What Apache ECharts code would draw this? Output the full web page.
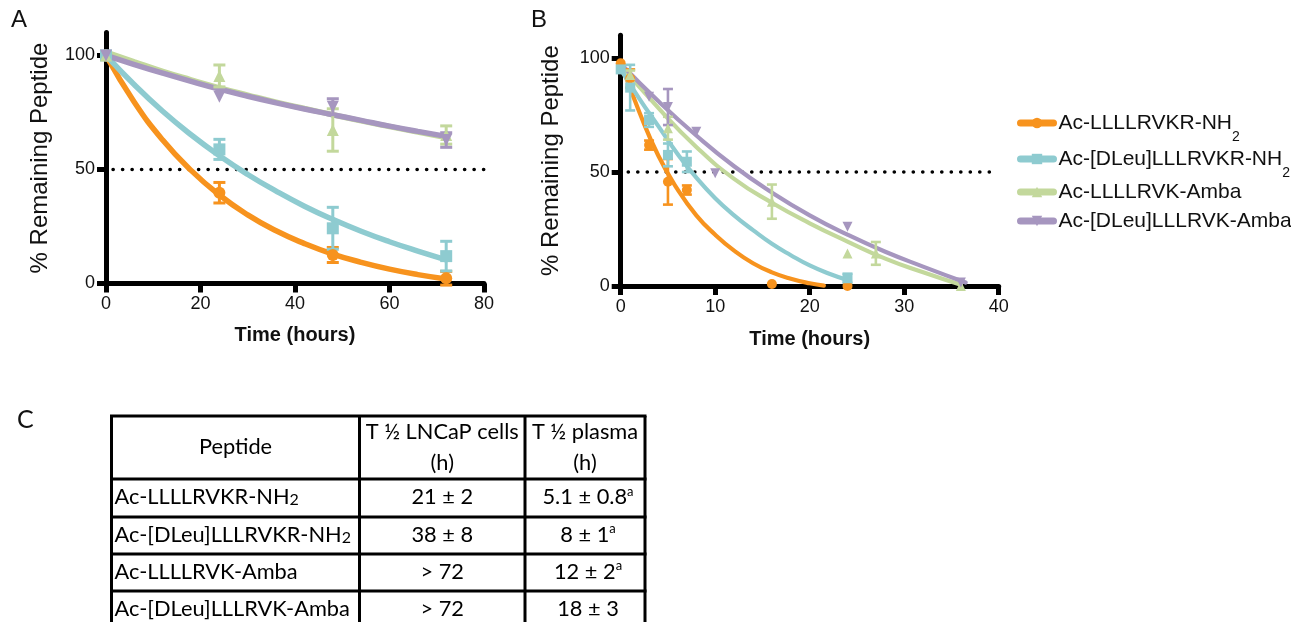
<!DOCTYPE html>
<html>
<head>
<meta charset="utf-8">
<title>Peptide stability</title>
<script src="https://cdn.jsdelivr.net/npm/echarts@6/dist/echarts.min.js"></script>
<style>
  html, body { margin: 0; padding: 0; background: #fff; }
  #main { width: 1291px; height: 622px; }
</style>
</head>
<body>
<div id="main"></div>
<script>
// peptides, same order in every panel
var peptides = ['Ac-LLLLRVKR-NH2', 'Ac-[DLeu]LLLRVKR-NH2', 'Ac-LLLLRVK-Amba', 'Ac-[DLeu]LLLRVK-Amba'];
var colors = ['#F7931E', '#8ECBD0', '#C3D89C', '#A696BF'];
var symbols = ['circle', 'rect', 'triangle', 'path://M0,0L10,0L5,9Z'];

// panel A - LNCaP cells, measured points
var timeA = [0, 24, 48, 72];
var meanA = [
  [100, 39.8, 12.5, 2.3],
  [100, 58.8, 24.2, 12.0],
  [100, 91.0, 67.3, 65.1],
  [100, 81.9, 77.5, 62.9]
];
var errA = [
  [0, 4.5, 3.3, 3.0],
  [0, 4.4, 9.2, 6.5],
  [0, 4.8, 9.3, 4.0],
  [0, 0, 3.5, 3.2]
];
// panel A - fitted curves
var fitTimeA = [0, 6, 12, 18, 24, 30, 36, 42, 48, 54, 60, 66, 72];
var fitA = [
  [100, 79.5, 62.9, 49.6, 38.8, 30.1, 23.1, 17.5, 12.9, 9.3, 6.3, 3.9, 2.0],
  [100, 87.1, 75.5, 65.2, 56.0, 47.8, 40.5, 33.9, 28.1, 22.9, 18.3, 14.2, 10.4],
  [101.5, 97.2, 93.0, 89.3, 85.8, 82.6, 79.5, 76.7, 74.0, 71.3, 68.8, 66.4, 64.0],
  [100, 96.0, 92.2, 88.6, 85.2, 82.1, 79.2, 76.5, 74.0, 71.5, 69.0, 66.7, 64.5]
];

// panel B - plasma, measured points
var timeB = [
  [0, 1, 3, 5, 7, 16, 24],
  [0, 1, 3, 5, 7, 24],
  [1, 5, 16, 24, 27, 36],
  [3, 5, 8, 10, 24, 36]
];
var meanB = [
  [97.7, 91.0, 61.8, 45.7, 42.1, 0.9, 0],
  [95.0, 87.0, 72.8, 57.5, 54.5, 3.4],
  [92.5, 69.2, 37.0, 14.3, 14.3, 0],
  [83.0, 78.5, 67.7, 49.4, 26.0, 1.5]
];
var errB = [
  [0, 4, 2, 10, 2, 0, 0],
  [0, 10, 3, 5, 4.5, 2],
  [2, 5, 7.5, 0, 5, 0],
  [0, 7.9, 0, 0, 0, 0]
];
// panel B - fitted curves
var fitTimeB = [
  [0, 2, 4, 6, 8, 10, 12, 14, 16, 18, 20, 21.5],
  [0, 2, 4, 6, 8, 10, 12, 14, 16, 18, 20, 22, 24],
  [0, 4, 8, 12, 16, 20, 24, 28, 32, 36],
  [0, 4, 8, 12, 16, 20, 24, 28, 32, 36.5]
];
var fitB = [
  [98, 76, 57, 42.5, 31, 22.5, 15.5, 10, 6, 3.2, 1.2, 0.2],
  [95, 82, 70, 58, 47.5, 38.5, 31, 24.5, 18.5, 13.5, 9, 5.5, 2.6],
  [97, 78, 61, 47, 36.5, 27.5, 19.5, 12, 6, 0.5],
  [97.5, 81, 66, 52.5, 41, 31, 22.5, 15, 8.5, 1.5]
];

var halfLevel = 50;
var xTicksA = [0, 20, 40, 60, 80];
var xTicksB = [0, 10, 20, 30, 40];
var yTicks = [0, 50, 100];

// panel C table
var tableHead = ['Peptide', 'T ½ LNCaP cells\n(h)', 'T ½ plasma\n(h)'];
var halfLifeCells = ['21 ± 2', '38 ± 8', '> 72', '> 72'];
var halfLifePlasma = ['5.1 ± 0.8', '8 ± 1', '12 ± 2', '18 ± 3'];
var plasmaNote = ['a', 'a', 'a', ''];

var FONT = "'Liberation Sans', Arial, Helvetica, sans-serif";
var TFONT = "Lato, 'Noto Sans', sans-serif";

var myChart = echarts.init(document.getElementById('main'));

function pairs(t, v) {
  return t.map(function (x, k) { return [x, v[k]]; });
}

function fitSeries(p, i, t, v, w) {
  return {
    type: 'line', name: peptides[i], xAxisIndex: p, yAxisIndex: p,
    data: pairs(t, v), smooth: 0.5,
    showSymbol: false, symbol: symbols[i], symbolSize: 12,
    lineStyle: { color: colors[i], width: w, cap: 'round' },
    itemStyle: { color: colors[i] },
    z: 2, silent: true, animation: false
  };
}

function errSeries(p, i, t, m, e, cap, w) {
  var d = t.map(function (x, k) { return [x, m[k], e[k]]; });
  return {
    type: 'custom', name: peptides[i], xAxisIndex: p, yAxisIndex: p,
    data: d, z: 3, silent: true, animation: false,
    renderItem: function (params, api) {
      var x = api.value(0), y = api.value(1), er = api.value(2);
      if (!er) return null;
      var a = api.coord([x, y + er]), b = api.coord([x, y - er]);
      var st = { stroke: colors[i], lineWidth: w };
      return {
        type: 'group', children: [
          { type: 'line', shape: { x1: a[0], y1: a[1], x2: b[0], y2: b[1] }, style: st },
          { type: 'line', shape: { x1: a[0] - cap, y1: a[1], x2: a[0] + cap, y2: a[1] }, style: st },
          { type: 'line', shape: { x1: b[0] - cap, y1: b[1], x2: b[0] + cap, y2: b[1] }, style: st }
        ]
      };
    }
  };
}

function pointSeries(p, i, t, m, size) {
  return {
    type: 'scatter', name: peptides[i], xAxisIndex: p, yAxisIndex: p,
    data: pairs(t, m), symbol: symbols[i], symbolSize: size,
    itemStyle: { color: colors[i], opacity: 1 },
    z: 4, silent: true, animation: false
  };
}

function dotted(p, x0, x1) {
  return {
    type: 'line', xAxisIndex: p, yAxisIndex: p, data: [[x0, halfLevel], [x1, halfLevel]],
    showSymbol: false, symbol: 'none', silent: true, animation: false, z: 1,
    lineStyle: { color: '#000', width: 3.6, type: [0.1, 9.4], cap: 'round' }
  };
}

var series = [];
peptides.forEach(function (n, i) { series.push(fitSeries(0, i, fitTimeA, fitA[i], 5.5)); });
peptides.forEach(function (n, i) { series.push(fitSeries(1, i, fitTimeB[i], fitB[i], 4.2)); });
peptides.forEach(function (n, i) {
  series.push(errSeries(0, i, timeA, meanA[i], errA[i], 6, 3));
  series.push(pointSeries(0, i, timeA, meanA[i], 12));
  series.push(errSeries(1, i, timeB[i], meanB[i], errB[i], 5, 2.6));
  series.push(pointSeries(1, i, timeB[i], meanB[i], 10));
});
series.push(dotted(0, 1.5, 80));
series.push(dotted(1, 0.8, 40));

function xAxis(p, max, ticks, gap) {
  return {
    type: 'value', gridIndex: p, min: 0, max: max, interval: max / 4,
    name: 'Time (hours)', nameLocation: 'middle', nameGap: gap,
    nameTextStyle: { fontFamily: FONT, fontSize: 20, fontWeight: 'bold', color: '#111' },
    axisLine: { lineStyle: { color: '#000', width: 5 } },
    axisTick: { length: 9, lineStyle: { color: '#000', width: 5 }, customValues: ticks },
    axisLabel: { fontFamily: FONT, fontSize: 18, color: '#111', margin: 12, customValues: ticks },
    splitLine: { show: false }
  };
}
function yAxis(p, gap) {
  return {
    type: 'value', gridIndex: p, min: 0, max: 110,
    name: '% Remaining Peptide', nameLocation: 'middle', nameGap: gap, nameRotate: 90,
    nameTextStyle: { fontFamily: FONT, fontSize: 24, color: '#111' },
    axisLine: { lineStyle: { color: '#000', width: 5 } },
    axisTick: { length: 9, lineStyle: { color: '#000', width: 5 }, customValues: yTicks },
    axisLabel: { fontFamily: FONT, fontSize: 18, color: '#111', margin: 11, customValues: yTicks },
    splitLine: { show: false }
  };
}

function legendName(name) {
  return name.replace('NH2', 'NH{sub|2}');
}
var legendTops = [97, 133, 175, 204];
var legends = peptides.map(function (n, i) {
  return {
    data: [n], left: 1012, top: legendTops[i], itemWidth: 33, itemHeight: 13,
    selectedMode: false, formatter: legendName,
    lineStyle: { width: 7 },
    textStyle: {
      fontFamily: FONT, fontSize: 21, color: '#111', lineHeight: 24, width: 240, overflow: 'none',
      rich: { sub: { fontFamily: FONT, fontSize: 14, lineHeight: 14, color: '#111', padding: [28, 0, 0, 0] } }
    }
  };
});

// table graphic
var colX = [111.5, 359.5, 525, 645];
var rowY = [416, 479, 517, 554, 591, 628];
var graphic = [];
function hline(y) {
  graphic.push({ type: 'line', shape: { x1: colX[0] - 1.5, y1: y, x2: colX[3] + 1.5, y2: y }, style: { stroke: '#000', lineWidth: 3 }, silent: true });
}
function vline(x) {
  graphic.push({ type: 'line', shape: { x1: x, y1: rowY[0], x2: x, y2: rowY[5] }, style: { stroke: '#000', lineWidth: 3 }, silent: true });
}
rowY.forEach(hline);
colX.forEach(vline);
var tRich = {
  s: { fontFamily: TFONT, fontSize: 16, lineHeight: 14, padding: [6, 0, 0, 0], fill: '#000' },
  sup: { fontFamily: TFONT, fontSize: 13, lineHeight: 12, padding: [0, 0, 11, 0], fill: '#000' }
};
function cellText(txt, x, y, align) {
  graphic.push({
    type: 'text', x: x, y: y, silent: true,
    style: { text: txt, fontFamily: TFONT, fontSize: 21.8, lineHeight: 31, fill: '#000', align: align, verticalAlign: 'middle', rich: tRich }
  });
}
cellText(tableHead[0], (colX[0] + colX[1]) / 2, 447, 'center');
cellText(tableHead[1], (colX[1] + colX[2]) / 2, 447, 'center');
cellText(tableHead[2], (colX[2] + colX[3]) / 2, 447, 'center');
peptides.forEach(function (n, i) {
  var yc = (rowY[i + 1] + rowY[i + 2]) / 2 - 1;
  cellText(n.replace('NH2', 'NH{s|2}'), colX[0] + 3, yc, 'left');
  cellText(halfLifeCells[i], (colX[1] + colX[2]) / 2, yc, 'center');
  cellText(halfLifePlasma[i] + (plasmaNote[i] ? '{sup|' + plasmaNote[i] + '}' : ''), (colX[2] + colX[3]) / 2 + 3, yc, 'center');
});
// panel letters
graphic.push({ type: 'text', x: 11, y: 8, style: { text: 'A', fontFamily: FONT, fontSize: 24, fill: '#111' } });
graphic.push({ type: 'text', x: 531, y: 8, style: { text: 'B', fontFamily: FONT, fontSize: 24, fill: '#111' } });
graphic.push({ type: 'text', x: 17, y: 407, style: { text: 'C', fontFamily: TFONT, fontSize: 25, fill: '#111' } });

var option = {
  backgroundColor: '#fff',
  animation: false,
  grid: [
    { left: 106, top: 32.6, width: 378, height: 250.9, outerBoundsMode: 'none' },
    { left: 620.7, top: 35.2, width: 378, height: 250.8, outerBoundsMode: 'none' }
  ],
  xAxis: [xAxis(0, 80, xTicksA, 42), xAxis(1, 40, xTicksB, 43)],
  yAxis: [yAxis(0, 54), yAxis(1, 57)],
  legend: legends,
  series: series,
  graphic: graphic
};
myChart.setOption(option);
</script>
</body>
</html>
